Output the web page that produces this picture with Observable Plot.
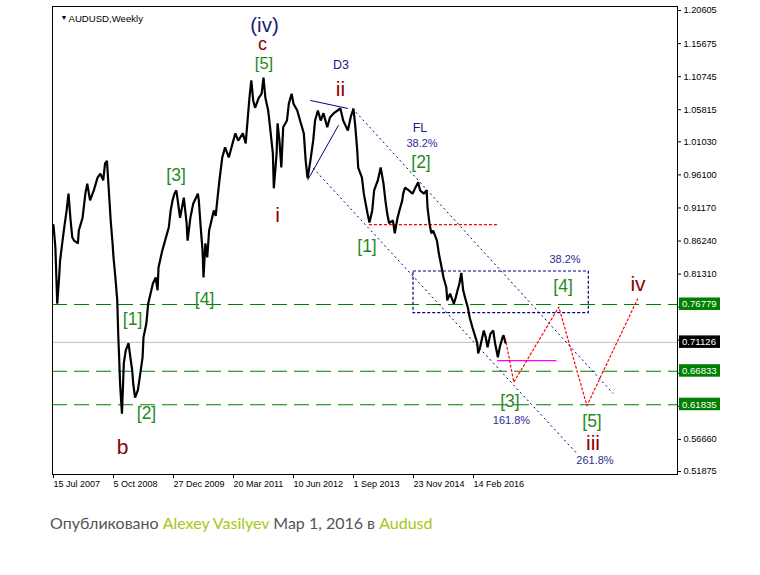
<!DOCTYPE html>
<html><head><meta charset="utf-8">
<script src="https://cdn.jsdelivr.net/npm/d3@7"></script>
<script src="https://cdn.jsdelivr.net/npm/@observablehq/plot@0.6"></script>
<style>
body{margin:0;background:#fff;}
#chart svg{display:block;}
#caption{font-family:Lato,"Open Sans",sans-serif;font-size:16px;color:#555;margin:13px 0 0 50px;line-height:20px;}
#caption .g{color:#a4c814;}
</style></head><body>
<div id="chart"></div>
<div id="caption">Опубликовано <span class="g">Alexey Vasilyev</span> Мар 1, 2016 в <span class="g">Audusd</span></div>
<script>
// weekly bar index since 15 Jul 2007 and close price
const weeks = [0,2,4,6,7,11,14,16,18,20,22,26,27,31,34,36,39,43,47,50,53,55,57,59,61,63,64,66,68,69,70,71,73,75,77,80,82,84,85,87,90,92,95,96,99,101,106,109,111,112,116,119,123,125,127,129,131,133,135,139,142,143,146,149,154,155,157,159,160,162,164,166,171,173,175,177,180,183,187,191,194,197,202,205,207,209,211,213,215,219,222,224,226,229,231,234,235,238,239,241,243,245,249,251,254,256,260,263,267,269,271,274,277,279,282,285,288,292,295,299,303,306,309,314,317,320,322,324,325,329,331,333,335,337,340,342,346,349,352,354,356,358,362,364,367,369,372,373,375,379,383,386,389,391,395,398,399,401,403,405,409,411,414,416,419,420,423,427,429,431,433,435,437,439,442,444,447,449,452,453,455,459,461,463,466,469,471,474,476,479,480,482];
const closes = [0.886,0.853,0.769,0.808,0.833,0.878,0.908,0.933,0.897,0.868,0.863,0.859,0.878,0.897,0.933,0.948,0.923,0.938,0.957,0.963,0.953,0.978,0.982,0.938,0.893,0.859,0.838,0.808,0.774,0.725,0.689,0.650,0.605,0.680,0.699,0.710,0.689,0.669,0.650,0.629,0.640,0.659,0.689,0.719,0.739,0.769,0.799,0.808,0.789,0.823,0.848,0.863,0.883,0.908,0.923,0.933,0.938,0.918,0.897,0.927,0.889,0.863,0.897,0.918,0.933,0.923,0.883,0.848,0.808,0.859,0.838,0.878,0.908,0.900,0.927,0.953,0.987,1.002,0.987,1.008,1.023,1.012,1.023,1.008,1.042,1.076,1.102,1.072,1.061,1.076,1.082,1.106,1.076,1.057,1.032,0.993,0.941,0.993,1.038,1.012,0.972,1.032,1.042,1.067,1.082,1.067,1.057,1.042,1.023,0.982,0.956,0.982,1.012,1.042,1.057,1.042,1.053,1.032,1.047,1.053,1.057,1.060,1.042,1.027,1.047,1.060,1.032,0.997,0.972,0.957,0.933,0.918,0.903,0.890,0.908,0.938,0.953,0.972,0.948,0.923,0.903,0.889,0.893,0.874,0.897,0.908,0.923,0.933,0.942,0.938,0.933,0.942,0.950,0.938,0.933,0.938,0.912,0.889,0.874,0.878,0.863,0.844,0.823,0.808,0.793,0.774,0.784,0.769,0.778,0.789,0.799,0.815,0.789,0.778,0.763,0.748,0.733,0.724,0.710,0.695,0.704,0.729,0.719,0.704,0.724,0.729,0.710,0.689,0.704,0.719,0.722,0.711];

// projected path (red dotted)
const fcWeeks = [482,491,539,569,623];
const fcPrices = [0.717,0.652,0.764,0.617,0.776];

// horizontal levels
const greenLevels = [0.76779,0.66833,0.61835];
const lastPrice = 0.71126;
const redLevel = {p:0.887, w1:337, w2:474};
const magentaLevel = {p:0.684, w1:474, w2:537};

// channel / triangle lines: [w1,p1,w2,p2]
const dottedLines = [[319,1.060,597,0.635],[277,0.971,558,0.546]];
const solidLines = [[274,1.072,314,1.060],[271,0.953,304,1.035]];
const zoneBox = [{w1:384,w2:571,p1:0.755,p2:0.817}];

// axis ticks
const xTickWeeks = [0,64,128,192,256,320,384,448];
const xTickLabels = ["15 Jul 2007","5 Oct 2008","27 Dec 2009","20 Mar 2011","10 Jun 2012","1 Sep 2013","23 Nov 2014","14 Feb 2016"];
const yTicks = [1.20605,1.15675,1.10745,1.05815,1.01030,0.96100,0.91170,0.86240,0.81310,0.76380,0.71450,0.66520,0.61590,0.56660,0.51875];
const hiddenTicks = [0.76380,0.71450,0.66520,0.61590]; // labels covered by the price tags
const tags = [{v:0.76779,c:"#008000"},{v:0.71126,c:"#000000"},{v:0.66833,c:"#008000"},{v:0.61835,c:"#008000"}];

// wave labels
const topStack = [{t:"(iv)",w:225.1,p:1.1837},{t:"c",w:222.9,p:1.1552},{t:"[5]",w:224.5,p:1.1270}];
const greenLabels = [
  {t:"[2]",w:392,p:0.9795},{t:"[1]",w:334.4,p:0.8542},
  {t:"[3]",w:130.7,p:0.9601},{t:"[4]",w:161.1,p:0.7752},{t:"[1]",w:84.3,p:0.7454},
  {t:"[2]",w:99.2,p:0.6053},{t:"[4]",w:543.5,p:0.7946},{t:"[3]",w:486.9,p:0.6232},
  {t:"[5]",w:574.4,p:0.5933}];
const redLabels = [
  {t:"ii",w:306.1,p:1.0883},{t:"i",w:238.9,p:0.9012},
  {t:"b",w:73.6,p:0.5546},{t:"iv",w:623.5,p:0.7983},{t:"iii",w:575.5,p:0.5613}];
const navyMid = [{t:"D3",w:306.7,p:1.1241},{t:"FL",w:390.9,p:1.0309}];
const navySmall = [{t:"38.2%",w:393.1,p:1.0078},{t:"38.2%",w:545.6,p:0.8349},
  {t:"161.8%",w:488.5,p:0.5956},{t:"261.8%",w:577.6,p:0.5359}];

const price = weeks.map((w,i)=>({w,p:closes[i]}));
const forecast = fcWeeks.map((w,i)=>({w,p:fcPrices[i]}));
const xLab = new Map(xTickWeeks.map((w,i)=>[w,xTickLabels[i]]));
const F = "Liberation Sans, Arial, sans-serif";
const GREEN = "#1f8a1f", RED = "#8b0000", NAVY = "#1a1a80";

const chart = Plot.plot({
  width:760, height:500,
  marginLeft:52, marginRight:83, marginTop:6, marginBottom:26,
  x:{domain:[-1.067,665.6], axis:null},
  y:{domain:[0.51431,1.21206], axis:null},
  style:{background:"white", fontFamily:F},
  marks:[
    Plot.ruleY(greenLevels,{y:d=>d, stroke:"#008000", strokeDasharray:"15,7", strokeWidth:1.1}),
    Plot.ruleY([lastPrice],{y:d=>d, stroke:"#c0c0c0"}),
    Plot.ruleY([redLevel],{y:"p", x1:"w1", x2:"w2", stroke:"#ff0000", strokeDasharray:"3,2", strokeWidth:1.2}),
    Plot.ruleY([magentaLevel],{y:"p", x1:"w1", x2:"w2", stroke:"#ff00ff", strokeWidth:1.3}),
    Plot.rect(zoneBox,{x1:"w1",x2:"w2",y1:"p1",y2:"p2", fill:"none", stroke:"#000080", strokeDasharray:"3,2", strokeWidth:1.2}),
    Plot.link(dottedLines,{x1:d=>d[0],y1:d=>d[1],x2:d=>d[2],y2:d=>d[3], stroke:"#000080", strokeDasharray:"2,3"}),
    Plot.link(solidLines,{x1:d=>d[0],y1:d=>d[1],x2:d=>d[2],y2:d=>d[3], stroke:"#000080"}),
    Plot.line(price,{x:"w", y:"p", stroke:"black", strokeWidth:2.2, strokeLinejoin:"miter"}),
    Plot.line(forecast,{x:"w", y:"p", stroke:"#ff0000", strokeDasharray:"2,2.5", strokeWidth:1.2}),
    Plot.text([topStack[0]],{x:"w", y:"p", text:"t", fill:NAVY, fontSize:20.5}),
    Plot.text([topStack[1]],{x:"w", y:"p", text:"t", fill:RED, fontSize:18}),
    Plot.text([topStack[2]],{x:"w", y:"p", text:"t", fill:GREEN, fontSize:16.5}),
    Plot.text(greenLabels,{x:"w", y:"p", text:"t", fill:GREEN, fontSize:17.5}),
    Plot.text(redLabels,{x:"w", y:"p", text:"t", fill:RED, fontSize:21}),
    Plot.text(navyMid,{x:"w", y:"p", text:"t", fill:NAVY, fontSize:12.5}),
    Plot.text(navySmall,{x:"w", y:"p", text:"t", fill:"#2b2b9a", fontSize:11}),
    Plot.text(["▼"],{frameAnchor:"top-left", dx:8, dy:9, fontSize:7, fill:"black"}),
    Plot.text(["AUDUSD,Weekly"],{frameAnchor:"top-left", dx:16, dy:9, textAnchor:"start", fontSize:9.6, fill:"black"}),
    Plot.frame({stroke:"black"}),
    Plot.axisY({anchor:"right", ticks:yTicks, tickFormat:d=>hiddenTicks.includes(d)?"":d.toFixed(5), tickSize:3, tickPadding:3, fontSize:9.2, fill:"black", stroke:"black"}),
    Plot.axisX({ticks:xTickWeeks, tickFormat:d=>xLab.get(d), tickSize:4, tickPadding:2, textAnchor:"start", fontSize:9, fill:"black", stroke:"black"})
  ]
});
document.getElementById("chart").appendChild(chart);

// price tags on the right scale
const ys = chart.scale("y");
const svg = d3.select(chart);
const g = svg.append("g").attr("font-family",F).attr("font-size",9.6).attr("text-anchor","start");
tags.forEach(t=>{
  const y = ys.apply(t.v);
  g.append("rect").attr("x",679).attr("y",y-6.5).attr("width",41).attr("height",12.5).attr("fill",t.c);
  g.append("text").attr("x",682).attr("y",y+3.5).attr("fill","white").text(t.v.toFixed(5));
});
</script>
</body></html>
